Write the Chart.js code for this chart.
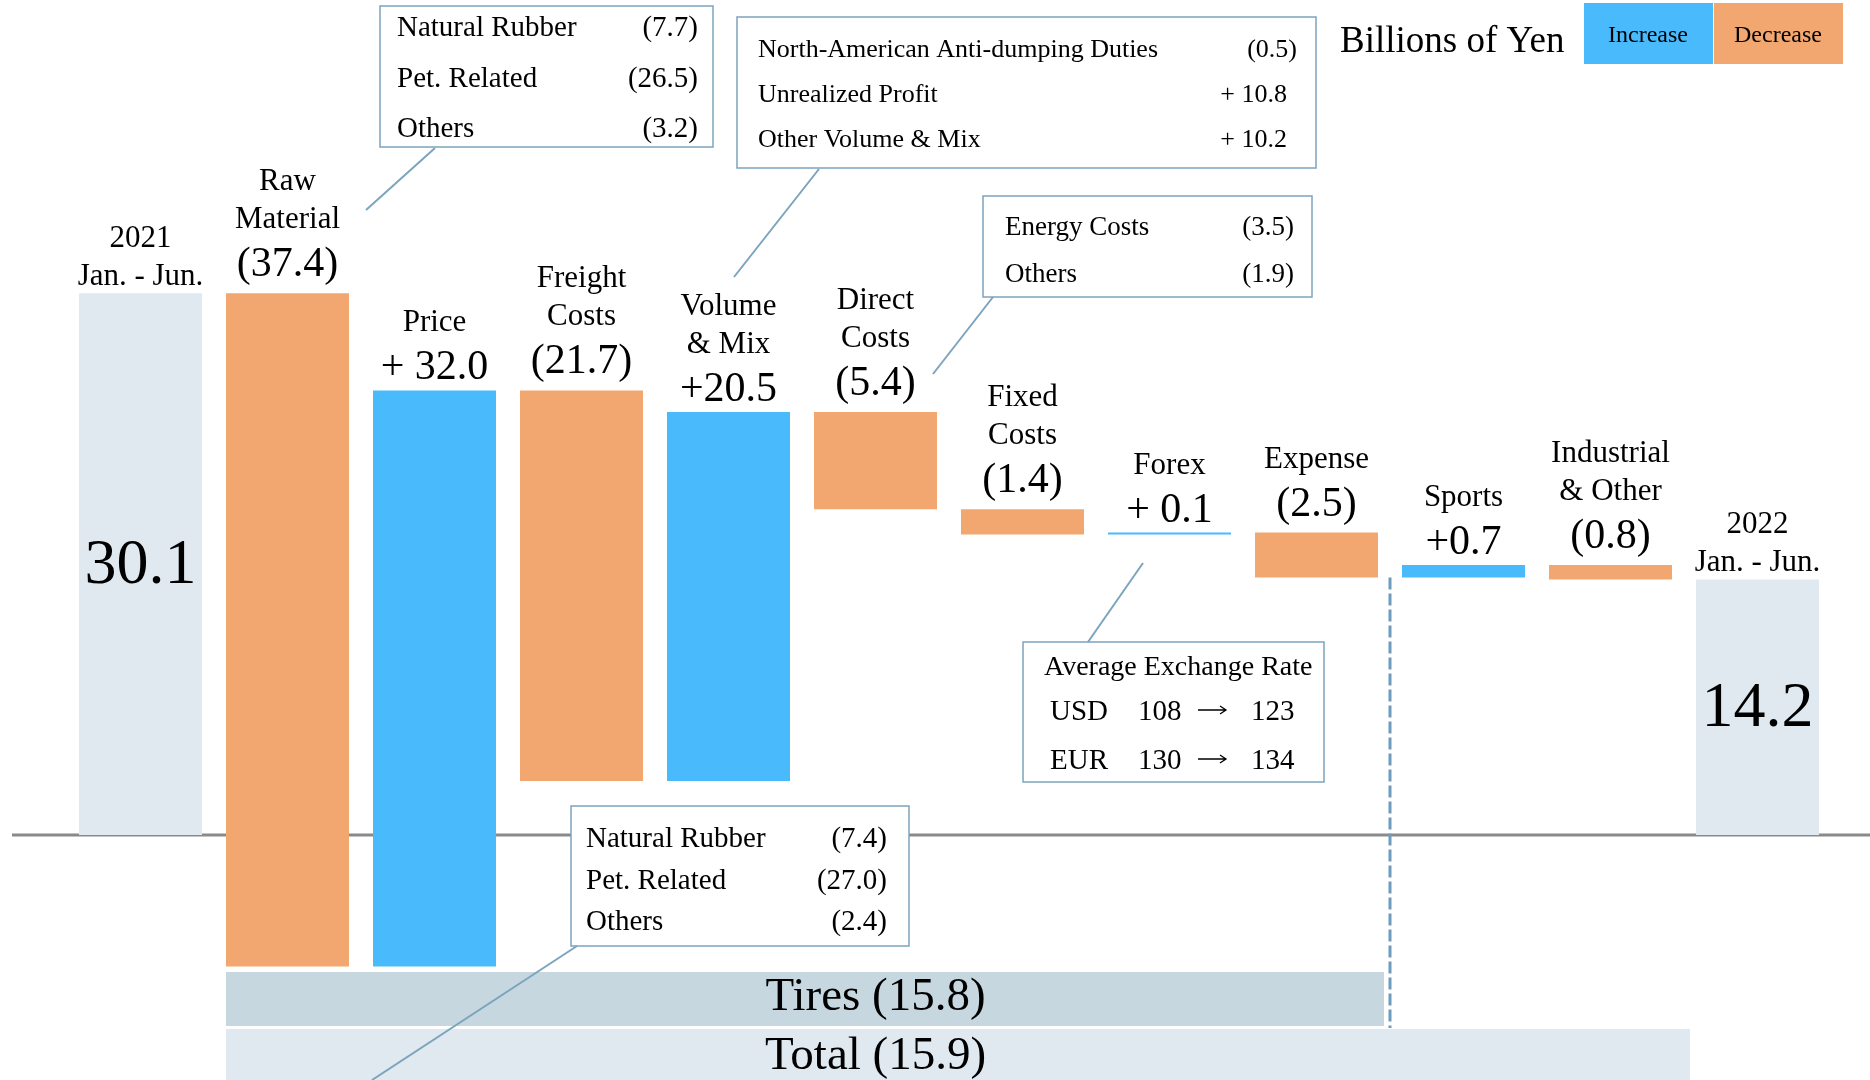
<!DOCTYPE html>
<html>
<head>
<meta charset="utf-8">
<script src="https://cdn.jsdelivr.net/npm/chart.js@4.4.0/dist/chart.umd.min.js"></script>
<style>
  html, body { margin: 0; padding: 0; background: #fff; }
  .chart-wrapper { position: relative; width: 1870px; height: 1080px; }
</style>
</head>
<body>
<div class="chart-wrapper"><canvas id="bridgeChart"></canvas></div>
<script>
// Billions of yen, 2021 Jan.-Jun. -> 2022 Jan.-Jun.
const categories = ['2021 Jan. - Jun.', 'Raw Material', 'Price', 'Freight Costs', 'Volume & Mix', 'Direct Costs',
  'Fixed Costs', 'Forex', 'Expense', 'Sports', 'Industrial & Other', '2022 Jan. - Jun.'];
const labelLines = [['2021', 'Jan. - Jun.'], ['Raw', 'Material'], ['Price'], ['Freight', 'Costs'], ['Volume', '& Mix'],
  ['Direct', 'Costs'], ['Fixed', 'Costs'], ['Forex'], ['Expense'], ['Sports'], ['Industrial', '& Other'], ['2022', 'Jan. - Jun.']];
const changes = [30.1, -37.4, 32.0, -21.7, 20.5, -5.4, -1.4, 0.1, -2.5, 0.7, -0.8, 14.2];
const isTotal = [true, false, false, false, false, false, false, false, false, false, false, true];
const valueLabels = ['30.1', '(37.4)', '+ 32.0', '(21.7)', '+20.5', '(5.4)', '(1.4)', '+ 0.1', '(2.5)', '+0.7', '(0.8)', '14.2'];

const segmentNames = ['Tires (15.8)', 'Total (15.9)'];

const rawItems = ['Natural Rubber', 'Pet. Related', 'Others'];
const rawValues = ['(7.7)', '(26.5)', '(3.2)'];
const volumeItems = ['North-American Anti-dumping Duties', 'Unrealized Profit', 'Other Volume & Mix'];
const volumeValues = ['(0.5)', '+ 10.8', '+ 10.2'];
const directItems = ['Energy Costs', 'Others'];
const directValues = ['(3.5)', '(1.9)'];
const lowerItems = ['Natural Rubber', 'Pet. Related', 'Others'];
const lowerValues = ['(7.4)', '(27.0)', '(2.4)'];
const fxCurrencies = ['USD', 'EUR'];
const fxFrom = ['108', '130'];
const fxTo = ['123', '134'];

const SERIF = '"Liberation Serif", "Times New Roman", serif';
const BLUE = '#49bbfd';
const ORANGE = '#f1a76f';
const GREY = '#e0e9f0';
const BAND = '#c6d7e0';
const EDGE = '#7ca4bd';
const Y_MIN = -13.61;
const Y_MAX = 46.39;

function font(size) {
  return `${size}px ${SERIF}`;
}

const ranges = [];
let running = 0;
changes.forEach((v, i) => {
  if (isTotal[i]) {
    ranges.push([0, v]);
    running = v;
  } else {
    ranges.push([running, running + v]);
    running += v;
  }
});
const colors = changes.map((v, i) => (isTotal[i] ? GREY : v >= 0 ? BLUE : ORANGE));

function drawBox(ctx, x, y, w, h, leader) {
  ctx.fillStyle = '#fff';
  ctx.fillRect(x, y, w, h);
  ctx.strokeStyle = EDGE;
  ctx.lineWidth = 1.5;
  ctx.strokeRect(x, y, w, h);
  ctx.lineWidth = 2;
  ctx.beginPath();
  ctx.moveTo(leader[0], leader[1]);
  ctx.lineTo(leader[2], leader[3]);
  ctx.stroke();
}

function drawRows(ctx, items, values, left, right, baselines, size, rightShift) {
  ctx.fillStyle = '#000';
  ctx.font = font(size);
  items.forEach((t, i) => {
    ctx.textAlign = 'left';
    ctx.fillText(t, left, baselines[i]);
    ctx.textAlign = 'right';
    const shift = rightShift && values[i].startsWith('+') ? rightShift : 0;
    ctx.fillText(values[i], right - shift, baselines[i]);
  });
}

function drawArrow(ctx, x1, x2, y) {
  ctx.strokeStyle = '#000';
  ctx.lineWidth = 1.3;
  ctx.beginPath();
  ctx.moveTo(x1, y);
  ctx.lineTo(x2, y);
  ctx.moveTo(x2 - 6, y - 4);
  ctx.lineTo(x2, y);
  ctx.lineTo(x2 - 6, y + 4);
  ctx.stroke();
}

const bridgeDecor = {
  id: 'bridgeDecor',
  beforeDatasetsDraw(chart) {
    const { ctx, scales: { y } } = chart;
    const bars = chart.getDatasetMeta(0).data;
    const zero = y.getPixelForValue(0);
    ctx.save();
    ctx.strokeStyle = '#8a8a8a';
    ctx.lineWidth = 3;
    ctx.beginPath();
    ctx.moveTo(12, zero);
    ctx.lineTo(chart.width, zero);
    ctx.stroke();

    // Tires / Total bands under the bars
    const left = bars[1].x - bars[1].width / 2;
    const tiresEnd = (bars[8].x + bars[9].x) / 2 - 6;
    const totalEnd = bars[11].x - bars[11].width / 2 - 6;
    const bandTop = [972, 1029];
    const bandBottom = [1026, 1090];
    const bandFill = [BAND, GREY];
    const ends = [tiresEnd, totalEnd];
    segmentNames.forEach((name, i) => {
      ctx.fillStyle = bandFill[i];
      ctx.fillRect(left, bandTop[i], ends[i] - left, bandBottom[i] - bandTop[i]);
    });
    ctx.fillStyle = '#000';
    ctx.font = font(47);
    ctx.textAlign = 'center';
    ctx.textBaseline = 'alphabetic';
    ctx.fillText(segmentNames[0], bars[5].x, 1010);
    ctx.fillText(segmentNames[1], bars[5].x, 1069);
    ctx.restore();
  },
  afterDatasetsDraw(chart) {
    const { ctx } = chart;
    const bars = chart.getDatasetMeta(0).data;
    ctx.save();
    ctx.textBaseline = 'alphabetic';

    // dashed split between Tires and the other segments
    const splitX = (bars[8].x + bars[9].x) / 2;
    ctx.strokeStyle = '#6e9cbc';
    ctx.lineWidth = 3;
    ctx.setLineDash([12, 4]);
    ctx.beginPath();
    ctx.moveTo(splitX, Math.max(bars[8].y, bars[8].base));
    ctx.lineTo(splitX, 1028);
    ctx.stroke();
    ctx.setLineDash([]);

    // category + value labels
    bars.forEach((el, i) => {
      const top = Math.min(el.y, el.base);
      ctx.fillStyle = '#000';
      ctx.textAlign = 'center';
      let labelBase;
      if (isTotal[i]) {
        ctx.font = font(64);
        ctx.textBaseline = 'middle';
        ctx.fillText(valueLabels[i], el.x, (el.y + el.base) / 2 + 2);
        ctx.textBaseline = 'alphabetic';
        labelBase = top - 8;
      } else {
        const vBase = top - (valueLabels[i].startsWith('(') ? 17 : 11);
        ctx.font = font(42);
        ctx.fillText(valueLabels[i], el.x, vBase);
        labelBase = vBase - 48;
      }
      ctx.font = font(31);
      const lines = labelLines[i];
      lines.forEach((line, k) => {
        ctx.fillText(line, el.x, labelBase - (lines.length - 1 - k) * 38);
      });
    });

    // detail callouts
    drawBox(ctx, 380, 6, 333, 141, [435, 148, 366, 210]);
    drawRows(ctx, rawItems, rawValues, 397, 698, [36, 87, 137], 29);

    drawBox(ctx, 737, 17, 579, 151, [819, 169, 734, 277]);
    drawRows(ctx, volumeItems, volumeValues, 758, 1297, [57, 102, 147], 26, 10);

    drawBox(ctx, 983, 196, 329, 101, [993, 297, 933, 374]);
    drawRows(ctx, directItems, directValues, 1005, 1294, [235, 282], 27);

    drawBox(ctx, 571, 806, 338, 140, [577, 946, 372, 1080]);
    drawRows(ctx, lowerItems, lowerValues, 586, 887, [847, 889, 930], 29);

    drawBox(ctx, 1023, 642, 301, 140, [1088, 642, 1143, 563]);
    ctx.fillStyle = '#000';
    ctx.textAlign = 'left';
    ctx.font = font(28);
    ctx.fillText('Average Exchange Rate', 1044, 675);
    ctx.font = font(29);
    fxCurrencies.forEach((c, i) => {
      const b = 720 + i * 49;
      ctx.fillStyle = '#000';
      ctx.fillText(c, 1050, b);
      ctx.fillText(fxFrom[i], 1138, b);
      ctx.fillText(fxTo[i], 1251, b);
      drawArrow(ctx, 1198, 1226, b - 10);
    });

    // unit + legend
    ctx.fillStyle = '#000';
    ctx.textAlign = 'left';
    ctx.font = font(37);
    ctx.fillText('Billions of Yen', 1340, 52);
    ctx.fillStyle = BLUE;
    ctx.fillRect(1584, 3, 129, 61);
    ctx.fillStyle = ORANGE;
    ctx.fillRect(1714, 3, 129, 61);
    ctx.fillStyle = '#000';
    ctx.font = font(24);
    ctx.textAlign = 'center';
    ctx.fillText('Increase', 1648, 42);
    ctx.fillText('Decrease', 1778, 42);
    ctx.restore();
  },
};

new Chart(document.getElementById('bridgeChart'), {
  type: 'bar',
  data: {
    labels: categories,
    datasets: [
      {
        data: ranges,
        backgroundColor: colors,
        borderWidth: 0,
        barPercentage: 123 / 147,
        categoryPercentage: 1,
      },
    ],
  },
  options: {
    responsive: true,
    maintainAspectRatio: false,
    animation: false,
    layout: { padding: { left: 67, right: 39, top: 0, bottom: 0 } },
    plugins: {
      legend: { display: false },
      tooltip: { enabled: false },
    },
    scales: {
      x: { display: false, offset: true, grid: { display: false } },
      y: { display: false, min: Y_MIN, max: Y_MAX },
    },
  },
  plugins: [bridgeDecor],
});
</script>
</body>
</html>
